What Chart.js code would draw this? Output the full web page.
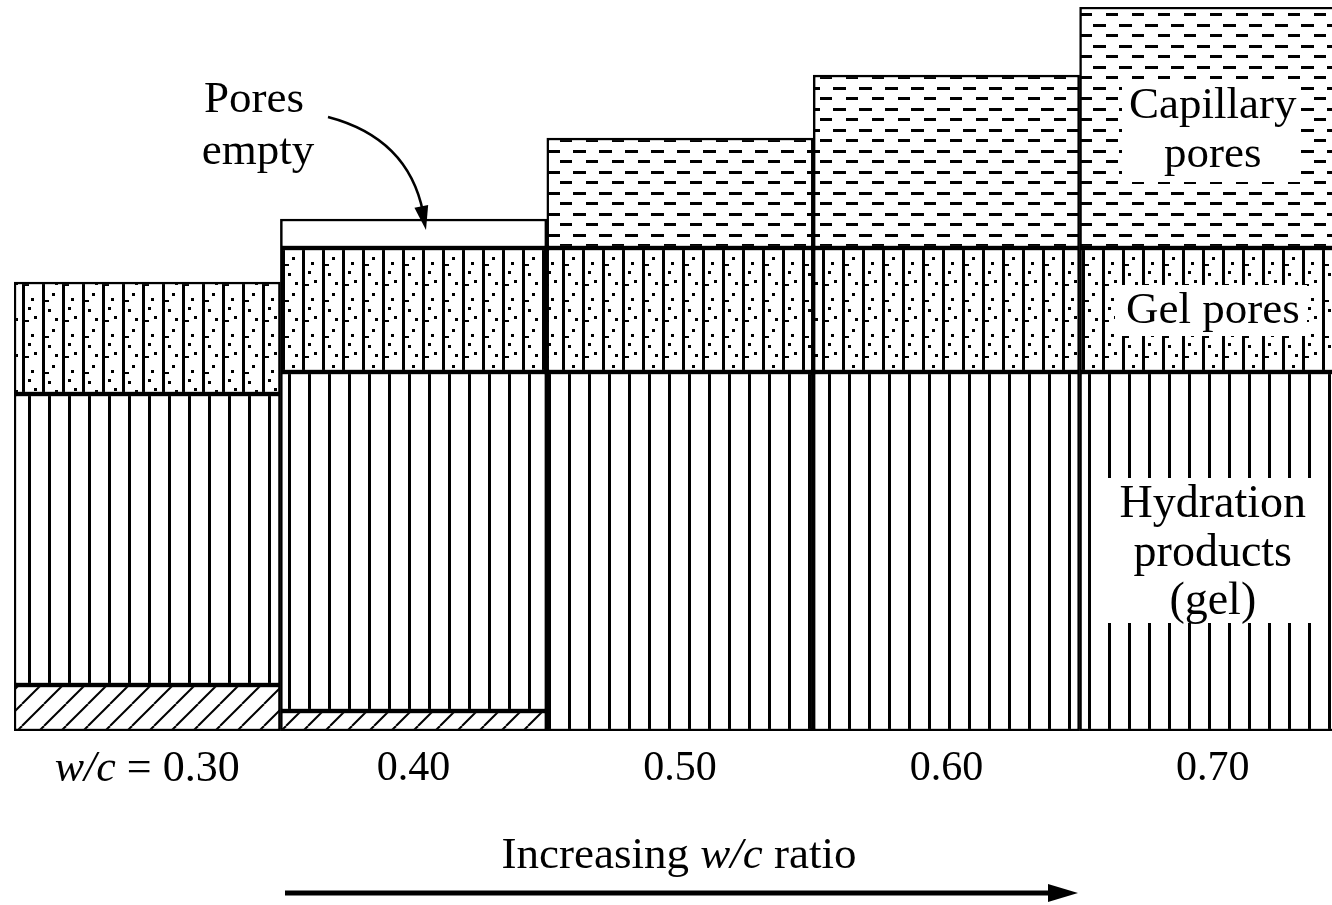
<!DOCTYPE html>
<html>
<head>
<meta charset="utf-8">
<script src="https://cdn.jsdelivr.net/npm/chart.js@4.4.0/dist/chart.umd.min.js"></script>
<style>
  html, body { margin: 0; padding: 0; background: #fff; overflow: hidden; }
  #wrap { width: 1350px; height: 905px; }
</style>
</head>
<body>
<div id="wrap"><canvas id="chart" width="1350" height="905"></canvas></div>
<script>
// water/cement ratios on the x axis
const ratios = ["0.30", "0.40", "0.50", "0.60", "0.70"];
// relative volumes (arbitrary units, bottom to top)
const unhydrated = [4.6, 2.0, null, null, null];
const hydration = [29.1, 33.9, 35.9, 35.9, 35.9];
const gelPores = [11.2, 12.4, 12.4, 12.4, 12.4];
const emptyPores = [null, 2.9, null, null, null];
const capillary = [null, null, 11.0, 17.3, 24.1];
const yMax = 72.4;

const SERIF = '"Liberation Serif", "DejaVu Serif", serif';
const canvas = document.getElementById("chart");
const ctx = canvas.getContext("2d");

function makePattern(w, h, draw) {
  const c = document.createElement("canvas");
  c.width = w;
  c.height = h;
  const g = c.getContext("2d");
  g.fillStyle = "#fff";
  g.fillRect(0, 0, w, h);
  g.fillStyle = "#000";
  g.strokeStyle = "#000";
  draw(g, w, h);
  return ctx.createPattern(c, "repeat");
}

// vertical lines: hydration products
const hydrationFill = makePattern(20, 10, (g, w, h) => {
  g.fillRect(8, 0, 3, h);
});

// vertical lines + stipple: gel pores
const gelFill = makePattern(40, 36, (g, w, h) => {
  g.fillRect(2, 0, 3, h);
  g.fillRect(22, 0, 3, h);
  const dots = [[12, 5], [31, 10], [8, 21], [34, 28], [15, 30], [28, 19]];
  dots.forEach(([dx, dy]) => g.fillRect(dx, dy, 3, 3));
  g.fillRect(5, 12, 4, 2);
  g.fillRect(25, 32, 4, 2);
});

// horizontal dashes: capillary pores
const capillaryFill = makePattern(26, 21, (g) => {
  g.fillRect(1, 3, 13, 3);
  g.fillRect(14, 13, 12, 3);
});

// diagonal hatch: unhydrated cement
const hatchFill = makePattern(22, 22, (g, w, h) => {
  g.lineWidth = 2;
  for (let k = -1; k <= 1; k++) {
    g.beginPath();
    g.moveTo(k * w, h);
    g.lineTo(k * w + w, 0);
    g.stroke();
  }
});

function dataset(label, data, fill) {
  return {
    label,
    data,
    backgroundColor: fill,
    borderColor: "#000",
    borderWidth: 2.5,
    borderSkipped: false,
    categoryPercentage: 1,
    barPercentage: 1,
  };
}

function mixedText(c, parts, cx, cy, size) {
  // parts: [[text, italic]]
  let total = 0;
  const widths = parts.map(([t, it]) => {
    c.font = `${it ? "italic " : ""}${size}px ${SERIF}`;
    const wd = c.measureText(t).width;
    total += wd;
    return wd;
  });
  let x = cx - total / 2;
  parts.forEach(([t, it], i) => {
    c.font = `${it ? "italic " : ""}${size}px ${SERIF}`;
    c.fillText(t, x, cy);
    x += widths[i];
  });
}

function arrowHead(c, tipX, tipY, dirX, dirY, len, half) {
  const n = Math.hypot(dirX, dirY);
  const ux = dirX / n, uy = dirY / n;
  const bx = tipX - ux * len, by = tipY - uy * len;
  c.beginPath();
  c.moveTo(tipX, tipY);
  c.lineTo(bx - uy * half, by + ux * half);
  c.lineTo(bx + uy * half, by - ux * half);
  c.closePath();
  c.fill();
}

const figureText = {
  id: "figureText",
  afterDraw(chart) {
    const c = chart.ctx;
    const x = chart.scales.x;
    c.save();
    c.fillStyle = "#000";
    c.strokeStyle = "#000";
    c.textBaseline = "middle";
    c.textAlign = "left";

    // category labels
    ratios.forEach((r, i) => {
      const cx = x.getPixelForValue(i);
      if (i === 0) mixedText(c, [["w/c", true], [" = " + r, false]], cx, 769, 44);
      else mixedText(c, [[r, false]], cx, 769, 42);
    });

    // labels inside the last bar
    const cx5 = x.getPixelForValue(4);
    c.fillStyle = "#fff";
    c.fillRect(1122, 86, 178, 96);
    c.fillRect(1115, 285, 192, 51);
    c.fillRect(1104, 478, 212, 145);
    c.fillStyle = "#000";
    mixedText(c, [["Capillary", false]], cx5, 106, 45);
    mixedText(c, [["pores", false]], cx5, 155, 45);
    mixedText(c, [["Gel pores", false]], cx5, 311, 45);
    mixedText(c, [["Hydration", false]], cx5, 505, 46);
    mixedText(c, [["products", false]], cx5, 554, 46);
    mixedText(c, [["(gel)", false]], cx5, 602, 46);

    // pores empty callout
    mixedText(c, [["Pores", false]], 254, 100, 45);
    mixedText(c, [["empty", false]], 258, 152, 45);
    c.lineWidth = 2.5;
    c.beginPath();
    c.moveTo(328, 117);
    c.quadraticCurveTo(408, 138, 423, 212);
    c.stroke();
    arrowHead(c, 426, 230, 4, 20, 24, 7);

    // bottom caption and arrow
    mixedText(c, [["Increasing ", false], ["w/c", true], [" ratio", false]], 679, 856, 45);
    c.lineWidth = 5;
    c.beginPath();
    c.moveTo(285, 893);
    c.lineTo(1055, 893);
    c.stroke();
    arrowHead(c, 1078, 893, 1, 0, 30, 9);
    c.restore();
  },
};

new Chart(ctx, {
  type: "bar",
  data: {
    labels: ratios,
    datasets: [
      dataset("Unhydrated cement", unhydrated, hatchFill),
      dataset("Hydration products (gel)", hydration, hydrationFill),
      dataset("Gel pores", gelPores, gelFill),
      dataset("Pores empty", emptyPores, "#fff"),
      dataset("Capillary pores", capillary, capillaryFill),
    ],
  },
  options: {
    responsive: false,
    animation: false,
    layout: { padding: { left: 14, right: 4, top: 7, bottom: 174 } },
    plugins: { legend: { display: false }, tooltip: { enabled: false } },
    scales: {
      x: { stacked: true, display: false },
      y: { stacked: true, display: false, min: 0, max: yMax },
    },
  },
  plugins: [figureText],
});
</script>
</body>
</html>
